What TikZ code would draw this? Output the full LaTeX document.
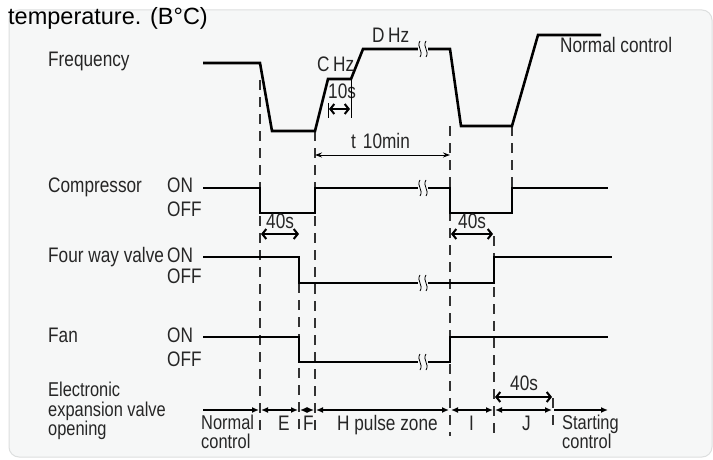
\documentclass[tikz,border=0pt]{standalone}
\usepackage{fontspec}
\setmainfont{Liberation Sans}
\newfontfamily\nar{Liberation Sans}[FakeStretch=0.82]
\usetikzlibrary{arrows.meta}
\definecolor{panel}{HTML}{F6F7F7}
\definecolor{panelline}{HTML}{DDDFDF}
\definecolor{dashc}{HTML}{333333}
\tikzset{
  lab/.style={anchor=base west, inner sep=0pt, font=\nar\fontsize{21}{18}\selectfont, text=black!85},
  mlab/.style={anchor=base west, inner sep=0pt, font=\nar\fontsize{20}{19}\selectfont, text=black!85},
  sig/.style={line width=2.6pt, line join=miter},
  guide/.style={line width=1.1pt, dashc, dash pattern=on 10pt off 7pt},
  eev/.style={line width=1.9pt, -{Latex[length=7pt,width=6pt]}},
  eevb/.style={line width=1.9pt, {Latex[length=7pt,width=6pt]}-{Latex[length=7pt,width=6pt]}},
  dur/.style={line width=2pt, {Straight Barb[length=4pt,width=10pt]}-{Straight Barb[length=4pt,width=10pt]}},
  tmin/.style={line width=1pt, {Stealth[length=7pt,width=5pt]}-{Stealth[length=7pt,width=5pt]}},
  brk/.pic={
    \fill[panel] (-5,-8) rectangle (5,8);
    \draw[line width=0.8pt] (-3,-8) .. controls (-7,-2) and (1,2) .. (-3,8);
    \draw[line width=0.8pt] (3,-8) .. controls (-1,-2) and (7,2) .. (3,8);
  }
}
\begin{document}
\begin{tikzpicture}[x=1pt,y=-1pt]
\useasboundingbox (0,0) rectangle (713,460);
\fill[white] (0,0) rectangle (713,460);
\draw[panelline, fill=panel, line width=1pt, rounded corners=10pt] (9,10) rectangle (712,457);
\node[anchor=base west, inner sep=0pt, font=\fontsize{23.5}{25}\selectfont] (title) at (8,25) {temperature. (B°C)};

% guide lines
\draw[guide] (260,80) -- (260,436);
\draw[guide] (299,283) -- (299,436);
\draw[guide] (315,131) -- (315,436);
\draw[guide] (450,126) -- (450,436);
\draw[guide] (494,236) -- (494,436);
\draw[guide] (512,126) -- (512,187);
\draw[guide] (553,398) -- (553,428);

% row labels
\node[lab] (lfreq) at (48,67) {Frequency};
\node[lab] (lcomp) at (48,192) {Compressor};
\node[lab] (lcon) at (167,192) {ON};
\node[lab] (lcoff) at (167,216) {OFF};
\node[lab] (lvalve) at (48,262) {Four way valve};
\node[lab] (lvon) at (167,262) {ON};
\node[lab] (lvoff) at (167,283) {OFF};
\node[lab] (lfan) at (48,342) {Fan};
\node[lab] (lfon) at (167,342) {ON};
\node[lab] (lfoff) at (167,366) {OFF};
\node[mlab] (leev1) at (48,396) {Electronic};
\node[mlab] (leev2) at (48,416) {expansion valve};
\node[mlab] (leev3) at (48,435) {opening};

% frequency
\draw[sig] (203,63) -- (260,63) -- (272,131) -- (315,131) -- (328,79) -- (351,79) -- (363,49) -- (450,49) -- (461,126) -- (512,126) -- (538,35) -- (601,35);
\pic at (423,49) {brk};
\node[lab] (chz) at (317,72) {C\,Hz};
\node[lab] (dhz) at (372,43) {D\,Hz};
\node[lab] (nc) at (560,53) {Normal control};
\node[lab] (ten) at (328,99) {10s};
\draw[line width=1pt] (328,103) -- (328,118);
\draw[line width=1pt] (351,79) -- (351,118);
\draw[dur] (329,109) -- (350,109);
\node[lab] (tmn) at (351,148) {t\hspace{7pt}10min};
\draw[tmin] (315,155) -- (450,155);

% compressor
\draw[sig] (203,188) -- (260,188) -- (260,213) -- (315,213) -- (315,188) -- (450,188) -- (450,213) -- (512,213) -- (512,188) -- (608,188);
\pic at (423,188) {brk};
\node[lab] (c40a) at (266,228) {40s};
\draw[dur] (261,234) -- (299,234);
\node[lab] (c40b) at (458,228) {40s};
\draw[dur] (451,234) -- (493,234);

% four way valve
\draw[sig] (203,257) -- (299,257) -- (299,283) -- (494,283) -- (494,257) -- (612,257);
\pic at (423,283) {brk};

% fan
\draw[sig] (203,337) -- (299,337) -- (299,362) -- (450,362) -- (450,337) -- (608,337);
\pic at (423,362) {brk};

% EEV
\draw[eev] (203,410) -- (259,410);
\draw[eevb] (261,410) -- (298,410);
\draw[eevb] (300,410) -- (314,410);
\draw[eevb] (316,410) -- (449,410);
\draw[eevb] (451,410) -- (493,410);
\draw[eevb] (495,410) -- (552,410);
\draw[eev] (554,410) -- (608,410);
\node[lab] (e40) at (510,390) {40s};
\draw[dur] (495,397) -- (552,397);
\node[mlab] (nc1) at (201,429) {Normal};
\node[mlab] (nc2) at (201,448) {control};
\node[lab] (le) at (278,430) {E};
\node[lab] (lf) at (303,430) {F};
\node[lab] (lh) at (337,430) {H pulse zone};
\node[lab] (li) at (469,430) {I};
\node[lab] (lj) at (522,430) {J};
\node[mlab] (sc1) at (562,429) {Starting};
\node[mlab] (sc2) at (562,448) {control};
\end{tikzpicture}
\end{document}
